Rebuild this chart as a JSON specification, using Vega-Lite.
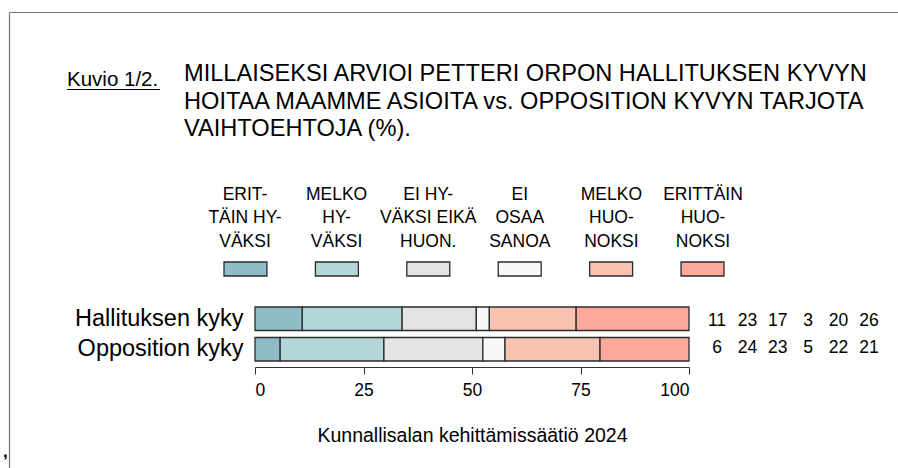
{
  "$schema": "https://vega.github.io/schema/vega-lite/v6.json",
  "autosize": "none",
  "width": 889,
  "height": 456,
  "padding": {"left": 9, "top": 12, "right": 0, "bottom": 0},
  "background": "white",
  "config": {"view": {"stroke": null}, "font": "Liberation Sans"},
  "title": {
    "text": ["MILLAISEKSI ARVIOI PETTERI ORPON HALLITUKSEN KYVYN", "HOITAA MAAMME ASIOITA vs. OPPOSITION KYVYN TARJOTA", "VAIHTOEHTOJA (%)."],
    "anchor": "start",
    "frame": "group",
    "orient": "top",
    "font": "Liberation Sans",
    "fontSize": 23.6,
    "fontWeight": "normal",
    "color": "#000000",
    "lineHeight": 27.8,
    "baseline": "top",
    "offset": 0,
    "dx": 175,
    "dy": 129
  },
  "datasets": {
    "bars": [
      {"group": "Hallituksen kyky", "cat": "ERITTÄIN HYVÄKSI", "idx": 1, "value": 10.9, "label": "11"},
      {"group": "Hallituksen kyky", "cat": "MELKO HYVÄKSI", "idx": 2, "value": 23.0, "label": "23"},
      {"group": "Hallituksen kyky", "cat": "EI HYVÄKSI EIKÄ HUONOKSI", "idx": 3, "value": 17.1, "label": "17"},
      {"group": "Hallituksen kyky", "cat": "EI OSAA SANOA", "idx": 4, "value": 3.0, "label": "3"},
      {"group": "Hallituksen kyky", "cat": "MELKO HUONOKSI", "idx": 5, "value": 20.0, "label": "20"},
      {"group": "Hallituksen kyky", "cat": "ERITTÄIN HUONOKSI", "idx": 6, "value": 26.0, "label": "26"},
      {"group": "Opposition kyky", "cat": "ERITTÄIN HYVÄKSI", "idx": 1, "value": 5.8, "label": "6"},
      {"group": "Opposition kyky", "cat": "MELKO HYVÄKSI", "idx": 2, "value": 23.9, "label": "24"},
      {"group": "Opposition kyky", "cat": "EI HYVÄKSI EIKÄ HUONOKSI", "idx": 3, "value": 22.8, "label": "23"},
      {"group": "Opposition kyky", "cat": "EI OSAA SANOA", "idx": 4, "value": 5.1, "label": "5"},
      {"group": "Opposition kyky", "cat": "MELKO HUONOKSI", "idx": 5, "value": 21.9, "label": "22"},
      {"group": "Opposition kyky", "cat": "ERITTÄIN HUONOKSI", "idx": 6, "value": 20.5, "label": "21"}
    ],
    "legend": [
      {"cat": "ERITTÄIN HYVÄKSI", "key": "Vastaus", "text": "ERIT-\nTÄIN HY-\nVÄKSI"},
      {"cat": "MELKO HYVÄKSI", "key": "Vastaus", "text": "MELKO\nHY-\nVÄKSI"},
      {"cat": "EI HYVÄKSI EIKÄ HUONOKSI", "key": "Vastaus", "text": "EI HY-\nVÄKSI EIKÄ\nHUON."},
      {"cat": "EI OSAA SANOA", "key": "Vastaus", "text": "EI\nOSAA\nSANOA"},
      {"cat": "MELKO HUONOKSI", "key": "Vastaus", "text": "MELKO\nHUO-\nNOKSI"},
      {"cat": "ERITTÄIN HUONOKSI", "key": "Vastaus", "text": "ERITTÄIN\nHUO-\nNOKSI"}
    ],
    "notes": [
      {"label": "Kuvio 1/2."}
    ]
  },
  "layer": [
    {
      "data": {"name": "notes"},
      "layer": [
        {
          "mark": {"type": "text", "align": "left", "baseline": "alphabetic", "font": "Liberation Sans", "fontSize": 20.5, "color": "#000000"},
          "encoding": {
            "x": {"datum": 58, "type": "quantitative", "scale": {"domain": [0, 889], "range": [0, 889], "nice": false, "zero": false}, "axis": {"orient": "top", "domain": true, "domainColor": "#777777", "domainWidth": 1.2, "ticks": false, "labels": false, "grid": false, "title": null}},
            "y": {"datum": 74, "type": "quantitative", "scale": {"domain": [0, 456], "range": [0, 456], "nice": false, "zero": false}, "axis": {"orient": "left", "domain": true, "domainColor": "#777777", "domainWidth": 1.2, "ticks": false, "labels": false, "grid": false, "title": null}},
            "text": {"field": "label"}
          }
        },
        {
          "mark": {"type": "rule", "color": "#000000", "strokeWidth": 1},
          "encoding": {
            "x": {"datum": 58, "type": "quantitative"},
            "x2": {"datum": 151},
            "y": {"datum": 77.5, "type": "quantitative"}
          }
        },
        {
          "mark": {"type": "text", "align": "left", "baseline": "alphabetic", "fontSize": 17, "fontWeight": "bold", "color": "#000000", "text": ","},
          "encoding": {
            "x": {"datum": -6, "type": "quantitative"},
            "y": {"datum": 445, "type": "quantitative"}
          }
        }
      ]
    },
    {
      "data": {"name": "bars"},
      "mark": {"type": "bar", "stroke": "#2b2b2b", "strokeWidth": 1.3},
      "encoding": {
        "x": {
          "field": "value", "type": "quantitative", "aggregate": "sum", "stack": "zero",
          "scale": {"domain": [0, 100], "range": [246, 680], "nice": false, "zero": true},
          "axis": {
            "orient": "bottom", "offset": -101, "values": [0, 25, 50, 75, 100],
            "domain": true, "domainColor": "#333333", "domainWidth": 1,
            "ticks": true, "tickColor": "#333333", "tickSize": 7, "tickWidth": 1,
            "grid": false,
            "labelFont": "Liberation Sans", "labelFontSize": 17.5, "labelColor": "#000000", "labelPadding": 7,
            "title": "Kunnallisalan kehittämissäätiö 2024",
            "titleFont": "Liberation Sans", "titleFontSize": 19.5, "titleFontWeight": "normal", "titleColor": "#000000", "titlePadding": 28
          }
        },
        "y": {
          "field": "group", "type": "nominal",
          "scale": {"domain": ["Hallituksen kyky", "Opposition kyky"], "range": [295, 349], "paddingInner": 0.23, "paddingOuter": 0},
          "axis": {"orient": "left", "offset": -246, "domain": false, "ticks": false, "grid": false, "labelFont": "Liberation Sans", "labelFontSize": 23.5, "labelColor": "#000000", "labelPadding": 12, "title": null}
        },
        "color": {
          "field": "cat", "type": "nominal",
          "scale": {
            "domain": ["ERITTÄIN HYVÄKSI", "MELKO HYVÄKSI", "EI HYVÄKSI EIKÄ HUONOKSI", "EI OSAA SANOA", "MELKO HUONOKSI", "ERITTÄIN HUONOKSI"],
            "range": ["#8fbcc7", "#b3d7d9", "#e4e4e4", "#f8f8f8", "#f8c4b1", "#fca99b"]
          },
          "legend": null
        },
        "order": {"field": "idx", "type": "quantitative"}
      }
    },
    {
      "data": {"name": "bars"},
      "mark": {"type": "text", "align": "center", "baseline": "middle", "font": "Liberation Sans", "fontSize": 17.5, "color": "#000000"},
      "encoding": {
        "x": {
          "field": "cat", "type": "nominal",
          "scale": {"type": "point", "domain": ["ERITTÄIN HYVÄKSI", "MELKO HYVÄKSI", "EI HYVÄKSI EIKÄ HUONOKSI", "EI OSAA SANOA", "MELKO HUONOKSI", "ERITTÄIN HUONOKSI"], "range": [708, 860], "padding": 0},
          "axis": null
        },
        "y": {
          "field": "group", "type": "nominal",
          "scale": {"domain": ["Hallituksen kyky", "Opposition kyky"], "range": [295, 349], "paddingInner": 0.23, "paddingOuter": 0},
          "axis": null
        },
        "text": {"field": "label"}
      }
    },
    {
      "data": {"name": "legend"},
      "mark": {"type": "rect", "stroke": "#2b2b2b", "strokeWidth": 1.3},
      "encoding": {
        "x": {
          "field": "cat", "type": "nominal",
          "scale": {"type": "band", "domain": ["ERITTÄIN HYVÄKSI", "MELKO HYVÄKSI", "EI HYVÄKSI EIKÄ HUONOKSI", "EI OSAA SANOA", "MELKO HUONOKSI", "ERITTÄIN HUONOKSI"], "range": [215, 715], "paddingInner": 0.53, "paddingOuter": 0},
          "axis": null
        },
        "y": {
          "field": "key", "type": "nominal",
          "scale": {"type": "band", "domain": ["Vastaus"], "range": [250, 264], "paddingInner": 0, "paddingOuter": 0},
          "axis": null
        },
        "color": {"field": "cat", "type": "nominal", "legend": null}
      }
    },
    {
      "data": {"name": "legend"},
      "mark": {"type": "text", "align": "center", "baseline": "alphabetic", "lineBreak": "\n", "lineHeight": 23.3, "font": "Liberation Sans", "fontSize": 17.5, "color": "#000000"},
      "encoding": {
        "x": {
          "field": "cat", "type": "nominal",
          "scale": {"type": "point", "domain": ["ERITTÄIN HYVÄKSI", "MELKO HYVÄKSI", "EI HYVÄKSI EIKÄ HUONOKSI", "EI OSAA SANOA", "MELKO HUONOKSI", "ERITTÄIN HUONOKSI"], "range": [236, 694], "padding": 0},
          "axis": null
        },
        "y": {
          "field": "key", "type": "nominal",
          "scale": {"type": "point", "domain": ["Vastaus"], "range": [188, 188], "padding": 0},
          "axis": null
        },
        "text": {"field": "text"}
      }
    }
  ],
  "resolve": {
    "scale": {"x": "independent", "y": "independent"},
    "axis": {"x": "independent", "y": "independent"}
  }
}
